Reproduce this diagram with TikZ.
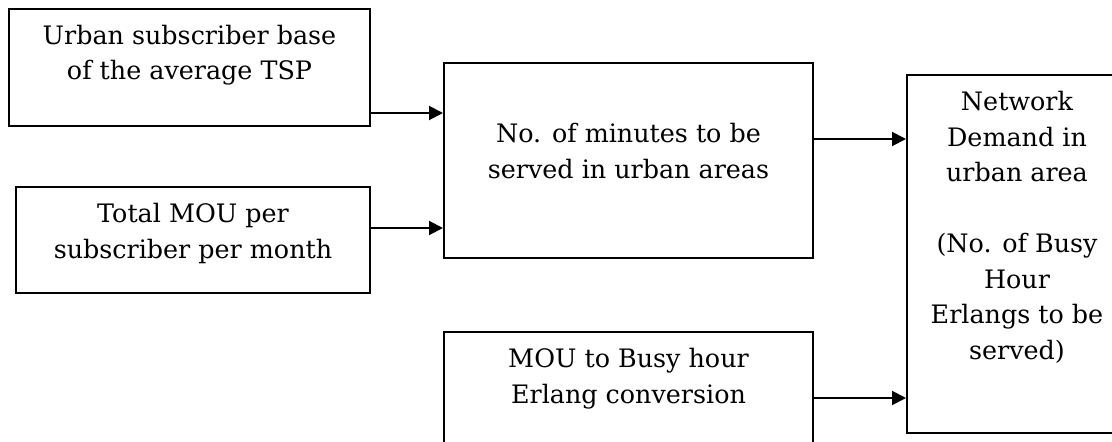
\documentclass[tikz,border=0pt]{standalone}
\usepackage{fontspec}
\setmainfont{DejaVu Serif}
\usetikzlibrary{arrows.meta,calc}
\begin{document}
\begin{tikzpicture}[x=1pt,y=-1pt,
  blk/.style={draw=black,line width=2pt,minimum width=#1,inner sep=0pt,anchor=north west},
  txt/.style={anchor=north,align=center,inner sep=0pt,font=\fontsize{25.4}{35.5}\selectfont},
  arr/.style={line width=2pt,-{Triangle[length=14pt,width=14pt]}}]
\clip (0,0) rectangle (1112,442);
% boxes: position of top-left corner, width and height
\node[blk=361pt,minimum height=117pt] (sub) at (8,8) {};
\node[blk=354pt,minimum height=106pt] (mou) at (15,186) {};
\node[blk=369pt,minimum height=195pt] (min) at (443,62) {};
\node[blk=220pt,minimum height=358pt] (dem) at (906,74) {};
\node[blk=369pt,minimum height=130pt] (erl) at (443,331) {};
% box texts, set from the top edge
\node[txt] (tsub) at ($(sub.north)+(0,17)$) {Urban subscriber base\\of the average TSP};
\node[txt] (tmou) at ($(mou.north)+(0,17)$) {Total MOU per\\subscriber per month};
\node[txt] (tmin) at ($(min.north)+(0,61)$) {No. of minutes to be\\served in urban areas};
\node[txt] (terl) at ($(erl.north)+(0,17)$) {MOU to Busy hour\\Erlang conversion};
\node[txt] (tdem) at ($(dem.north)+(0,17)$) {Network\\Demand in\\urban area\\[35.5pt](No. of Busy\\Hour\\Erlangs to be\\served)};
% connectors
\coordinate (a1) at ($(sub.north east)+(0,105)$);
\coordinate (a2) at ($(mou.north east)+(0,42)$);
\coordinate (a3) at ($(min.north east)+(0,77)$);
\coordinate (a4) at ($(erl.north east)+(0,67)$);
\draw[arr] (a1) -- (a1 -| min.west);
\draw[arr] (a2) -- (a2 -| min.west);
\draw[arr] (a3) -- (a3 -| dem.west);
\draw[arr] (a4) -- (a4 -| dem.west);
\end{tikzpicture}
\end{document}
